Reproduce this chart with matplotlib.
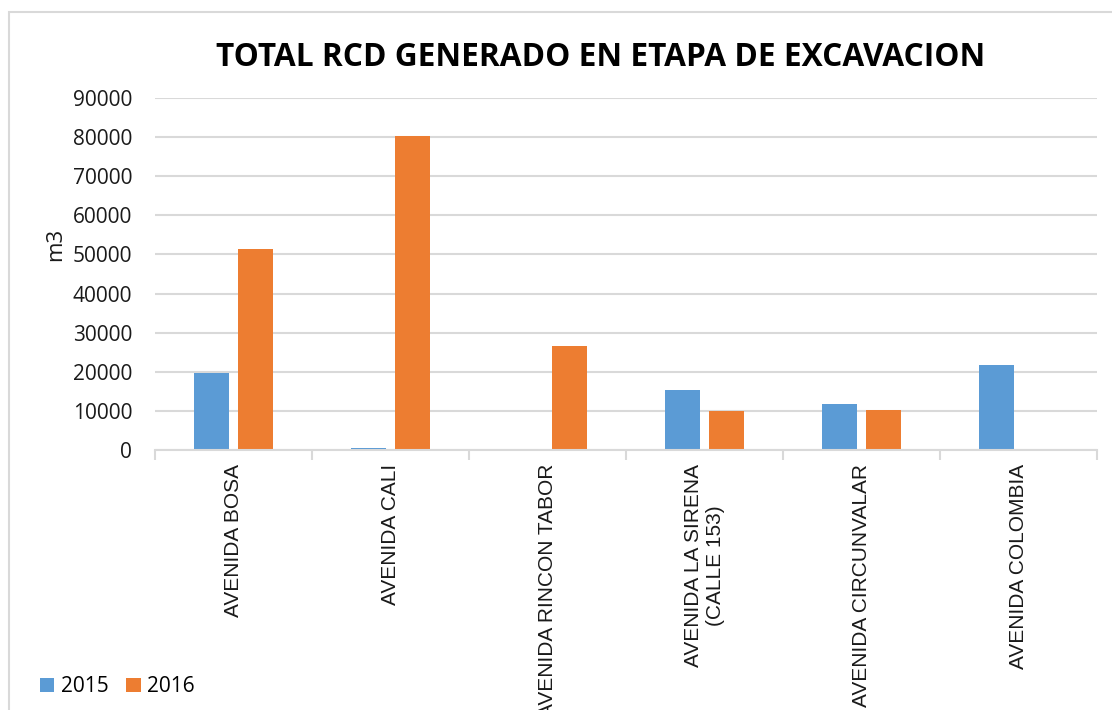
import matplotlib
matplotlib.use('Agg')
import matplotlib.pyplot as plt
import numpy as np
from matplotlib.patches import Rectangle

categories = [
    'AVENIDA BOSA',
    'AVENIDA CALI',
    'AVENIDA RINCON TABOR',
    'AVENIDA LA SIRENA\n(CALLE 153)',
    'AVENIDA CIRCUNVALAR',
    'AVENIDA COLOMBIA',
]
values_2015 = [19700, 400, 0, 15400, 11700, 21800]
values_2016 = [51500, 80300, 26700, 9900, 10100, 0]
yticks = [0, 10000, 20000, 30000, 40000, 50000, 60000, 70000, 80000, 90000]

blue = '#5B9BD5'
orange = '#ED7D31'
grid_c = '#D9D9D9'

fig = plt.figure(figsize=(11.12, 7.10), dpi=100)
# outer chart frame
fig.patches.append(Rectangle((9 / 1112, -0.01), 1.2, 1 - 12 / 710 + 0.01,
                             transform=fig.transFigure, fill=False,
                             edgecolor=grid_c, linewidth=1.5))

ax = fig.add_axes([155 / 1112, 1 - 450 / 710, (1097 - 155) / 1112, (450 - 98) / 710])

x = np.arange(len(categories))
width = 0.223
off = 0.142
ax.bar(x - off, values_2015, width, color=blue, label='2015')
ax.bar(x + off, values_2016, width, color=orange, label='2016')

ax.set_xlim(-0.5, len(categories) - 0.5)
ax.set_ylim(0, 90000)
ax.set_yticks(yticks)
ax.set_yticklabels([str(v) for v in yticks], fontfamily='Open Sans', fontsize=15)
ax.tick_params(axis='y', length=0, pad=16.5, colors='#1a1a1a')
ax.yaxis.grid(True, color=grid_c, linewidth=1.5)
ax.set_axisbelow(True)

ax.set_xticks(x)
ax.set_xticklabels(categories, rotation=90, fontfamily='Liberation Sans',
                   fontsize=15, va='top', ha='center', multialignment='center')
ax.tick_params(axis='x', which='major', length=0, pad=10, colors='#1a1a1a')
ax.set_xticks(np.arange(-0.5, len(categories)), minor=True)
ax.tick_params(axis='x', which='minor', length=7, width=1.5, color=grid_c)

for s in ['top', 'right', 'left']:
    ax.spines[s].set_visible(False)
ax.spines['bottom'].set_color(grid_c)
ax.spines['bottom'].set_linewidth(1.5)

ax.set_ylabel('m3', fontfamily='Open Sans', fontsize=16, color='#1a1a1a')
ax.yaxis.set_label_coords((66 - 155) / 942, (450 - 244) / 352)

fig.text(601 / 1112, 1 - 58 / 710, 'TOTAL RCD GENERADO EN ETAPA DE EXCAVACION',
         ha='center', va='center', fontfamily='Open Sans', fontweight='bold',
         fontsize=22.8, color='black')

leg = fig.legend(loc='lower left', bbox_to_anchor=(21 / 1112, -6 / 710), ncol=2,
                 frameon=False, prop={'family': 'Open Sans', 'size': 15},
                 handlelength=0.7, handleheight=0.7, handletextpad=0.3,
                 columnspacing=0.85)

fig.savefig('out.png', dpi=100)
